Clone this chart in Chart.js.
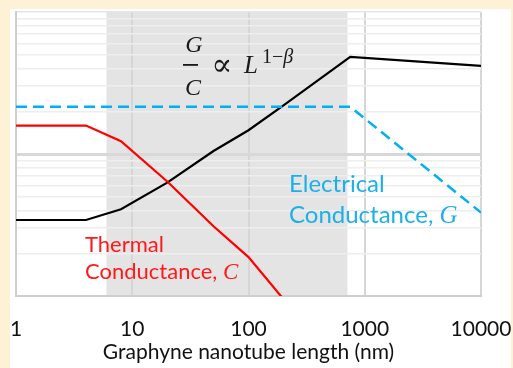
<!DOCTYPE html>
<html>
<head>
<meta charset="utf-8">
<script src="https://cdn.jsdelivr.net/npm/chart.js@4"></script>
<style>
  html, body { margin: 0; padding: 0; background: #fdf2d5; }
  #wrap { position: absolute; left: 10px; top: 9px; width: 501px; height: 359px; background: #ffffff; }
</style>
</head>
<body>
<div id="wrap"><canvas id="conductanceChart"></canvas></div>
<script>
// nanotube lengths (nm) and curve levels (log units, no y labels)
var ratioLengths = [1, 4, 8, 20, 50, 100, 200, 750, 10000];
var ratioValues = [3.43, 3.43, 4.08, 6.28, 10.5, 14.7, 22, 48.3, 41.8];

var thermalLengths = [1, 4, 8, 20, 50, 100, 200];
var thermalValues = [15.85, 15.85, 12.3, 6.4, 3.1, 1.88, 0.95];

var electricalLengths = [1, 750, 10000];
var electricalValues = [21.5, 21.5, 3.87];

var lengthTicks = [1, 10, 100, 1000, 10000];
var levelTicks = [1, 2, 3, 4, 5, 6, 7, 8, 9, 10, 20, 30, 40, 50, 60, 70, 80, 90, 100];

// grey band for the crossover lengths (nm)
var shadedRange = [6, 710];

var labelFont = 'Lato';

function toPoints(xs, ys) {
    return xs.map(function (x, i) { return { x: x, y: ys[i] }; });
}

var shadePlugin = {
    id: 'shade',
    beforeDraw: function (chart) {
        var ctx = chart.ctx;
        var area = chart.chartArea;
        var x0 = chart.scales.x.getPixelForValue(shadedRange[0]);
        var x1 = chart.scales.x.getPixelForValue(shadedRange[1]);
        ctx.save();
        ctx.fillStyle = '#e4e4e4';
        ctx.fillRect(x0, area.top, x1 - x0, area.bottom - area.top);
        ctx.restore();
    }
};

// text with an italic serif symbol at the end
function drawLabel(ctx, text, symbol, x, y, size, color) {
    ctx.fillStyle = color;
    ctx.font = size + 'px ' + labelFont;
    ctx.fillText(text, x, y);
    if (symbol) {
        var w = ctx.measureText(text).width;
        ctx.font = 'italic ' + (size + 1) + 'px "Liberation Serif"';
        ctx.fillText(symbol, x + w, y);
    }
}

var labelPlugin = {
    id: 'labels',
    afterDatasetsDraw: function (chart) {
        var ctx = chart.ctx;
        ctx.save();
        ctx.textBaseline = 'alphabetic';

        // G / C ∝ L^(1-β)
        ctx.fillStyle = '#1a1a1a';
        ctx.textAlign = 'center';
        ctx.font = 'italic 24px "Liberation Serif"';
        ctx.fillText('G', 184, 43);
        ctx.fillText('C', 183, 86);
        ctx.fillRect(173, 55, 15, 1.8);
        ctx.font = '31px "DejaVu Serif"';
        ctx.textBaseline = 'middle';
        ctx.fillText('\u221D', 212, 58);
        ctx.textBaseline = 'alphabetic';
        ctx.textAlign = 'left';
        ctx.font = 'italic 25px "Liberation Serif"';
        ctx.fillText('L', 234, 64);
        ctx.font = '20px "Liberation Serif"';
        ctx.fillText('1\u2212', 252, 54);
        var w = ctx.measureText('1\u2212').width;
        ctx.font = 'italic 20px "Liberation Serif"';
        ctx.fillText('\u03B2', 252 + w, 54);

        drawLabel(ctx, 'Electrical', null, 279, 183, 24, '#1cb0ea');
        drawLabel(ctx, 'Conductance, ', 'G', 279, 214, 24, '#1cb0ea');
        drawLabel(ctx, 'Thermal', null, 75, 243, 22, '#ff1a1a');
        drawLabel(ctx, 'Conductance, ', 'C', 75, 270, 22, '#ff1a1a');
        ctx.restore();
    }
};

function minorGrid(ctx) {
    var v = ctx.tick.value;
    if (v === 10) return '#d8d8d8';
    if (v === 100) return '#e6e6e6';
    return '#eeeeee';
}

new Chart(document.getElementById('conductanceChart'), {
    type: 'line',
    data: {
        datasets: [{
            data: toPoints(electricalLengths, electricalValues),
            borderColor: '#00b0f0',
            borderWidth: 2.5,
            borderDash: [11, 6],
            pointRadius: 0
        }, {
            data: toPoints(thermalLengths, thermalValues),
            borderColor: '#ff0000',
            borderWidth: 2.2,
            pointRadius: 0,
            clip: 0
        }, {
            data: toPoints(ratioLengths, ratioValues),
            borderColor: '#000000',
            borderWidth: 2.2,
            pointRadius: 0
        }]
    },
    options: {
        responsive: true,
        maintainAspectRatio: false,
        animation: false,
        layout: { padding: { left: 6, top: 3, right: 30, bottom: 0 } },
        plugins: {
            legend: { display: false },
            tooltip: { enabled: false }
        },
        scales: {
            x: {
                type: 'logarithmic',
                min: 1,
                max: 10000,
                afterBuildTicks: function (scale) {
                    scale.ticks = lengthTicks.map(function (v) { return { value: v }; });
                },
                afterFit: function (scale) {
                    // fixed height, edge labels fit inside the layout padding
                    scale.height = 72;
                    scale.paddingLeft = 0;
                    scale.paddingRight = 0;
                },
                grid: { color: '#d6d6d6', lineWidth: 2, drawTicks: false },
                border: { color: '#cfcfcf', width: 2 },
                ticks: {
                    color: '#111111',
                    font: { family: labelFont, size: 21 },
                    padding: 21,
                    maxRotation: 0,
                    autoSkip: false,
                    callback: function (value) { return String(value); }
                },
                title: {
                    display: true,
                    text: 'Graphyne nanotube length (nm)',
                    color: '#111111',
                    font: { family: labelFont, size: 21 },
                    padding: { top: 0, bottom: 3 }
                }
            },
            y: {
                type: 'logarithmic',
                min: 1,
                max: 100,
                afterBuildTicks: function (scale) {
                    scale.ticks = levelTicks.map(function (v) { return { value: v }; });
                },
                afterFit: function (scale) {
                    scale.width = 0;
                    scale.paddingTop = 0;
                    scale.paddingBottom = 0;
                },
                ticks: { display: false },
                grid: {
                    drawTicks: false,
                    color: minorGrid,
                    lineWidth: function (ctx) { return ctx.tick.value === 10 ? 3 : 1.5; }
                },
                border: { color: '#cfcfcf', width: 2 }
            }
        }
    },
    plugins: [shadePlugin, labelPlugin]
});
</script>
</body>
</html>
